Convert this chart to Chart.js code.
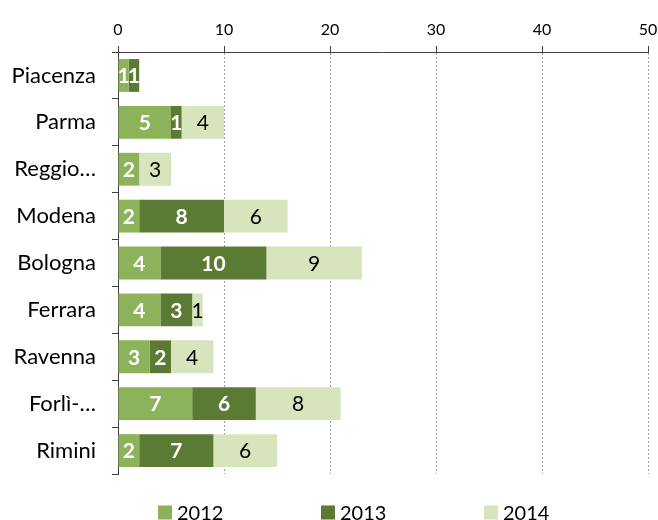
<!DOCTYPE html>
<html>
<head>
<meta charset="utf-8">
<script src="https://cdn.jsdelivr.net/npm/chart.js@4/dist/chart.umd.min.js"></script>
<style>
  html, body { margin: 0; padding: 0; background: #fff; }
  #grafico { display: block; }
</style>
</head>
<body>
<canvas id="grafico" width="658" height="520"></canvas>
<script>
var province = ['Piacenza', 'Parma', 'Reggio…', 'Modena', 'Bologna', 'Ferrara', 'Ravenna', 'Forlì-…', 'Rimini'];
var anni = ['2012', '2013', '2014'];
var valori2012 = [1, 5, 2, 2, 4, 4, 3, 7, 2];
var valori2013 = [1, 1, 0, 8, 10, 3, 2, 6, 7];
var valori2014 = [0, 4, 3, 6, 9, 1, 4, 8, 6];
var tickMin = 0, tickMax = 50, tickPasso = 10;

var colori = ['#8db35a', '#5b7b34', '#d8e4bc'];
var font = 'Lato';

// etichette dentro le barre
var etichetteBarre = {
	id: 'etichetteBarre',
	afterDatasetsDraw: function(chart) {
		var ctx = chart.ctx;
		ctx.save();
		ctx.textAlign = 'center';
		ctx.textBaseline = 'middle';
		chart.data.datasets.forEach(function(ds, d) {
			var meta = chart.getDatasetMeta(d);
			ctx.fillStyle = d < 2 ? '#ffffff' : '#000000';
			ctx.font = (d < 2 ? 'bold ' : '') + '21px ' + font;
			meta.data.forEach(function(bar, i) {
				var v = ds.data[i];
				if (!v) return;
				var p = bar.getProps(['x', 'y', 'base'], true);
				ctx.fillText(String(v), (p.x + p.base) / 2, p.y + 1);
			});
		});
		ctx.restore();
	}
};

// legenda in basso, come nell'originale
var legenda = {
	id: 'legenda',
	afterDraw: function(chart) {
		var ctx = chart.ctx;
		var x = 158, y = 512.5, lato = 14, passo = 163;
		ctx.save();
		ctx.font = '20px ' + font;
		ctx.textBaseline = 'middle';
		ctx.textAlign = 'left';
		chart.data.datasets.forEach(function(ds, d) {
			ctx.fillStyle = ds.backgroundColor;
			ctx.fillRect(x + d * passo, y - lato / 2, lato, lato);
			ctx.fillStyle = '#000000';
			ctx.fillText(ds.label, x + d * passo + lato + 5, y + 1);
		});
		ctx.restore();
	}
};

$ = function(sel) { return document.querySelectorAll(sel); };

var ctx = $('#grafico')[0].getContext('2d');
var grafico = new Chart(ctx, {
	type: 'bar',
	data: {
		labels: province,
		datasets: [
			{ label: anni[0], data: valori2012, backgroundColor: colori[0] },
			{ label: anni[1], data: valori2013, backgroundColor: colori[1] },
			{ label: anni[2], data: valori2014, backgroundColor: colori[2] }
		]
	},
	options: {
		indexAxis: 'y',
		responsive: false,
		animation: false,
		layout: { padding: { left: 0, right: 0, top: 0, bottom: 46 } },
		datasets: { bar: { categoryPercentage: 1, barPercentage: 0.7 } },
		plugins: {
			legend: { display: false },
			tooltip: { enabled: false }
		},
		scales: {
			x: {
				position: 'top',
				stacked: true,
				min: tickMin,
				max: tickMax,
				ticks: { stepSize: tickPasso, color: '#000', padding: 7, font: { family: font, size: 16 } },
				grid: {
					color: function(c) { return c.index === 0 ? 'rgba(0,0,0,0)' : '#a0a0a0'; },
					tickColor: '#404040',
					tickLength: 6
				},
				border: { color: '#404040', dash: [2, 2] },
				afterFit: function(scale) {
					scale.height = 52;
					scale.paddingLeft = 0;
					scale.paddingRight = 10;
				}
			},
			y: {
				stacked: true,
				ticks: { color: '#000', padding: 16, font: { family: font, size: 22 } },
				grid: { drawOnChartArea: false, tickColor: '#404040', tickLength: 6 },
				border: { color: '#404040' },
				afterFit: function(scale) { scale.width = 118; }
			}
		}
	},
	plugins: [etichetteBarre, legenda]
});
</script>
</body>
</html>
